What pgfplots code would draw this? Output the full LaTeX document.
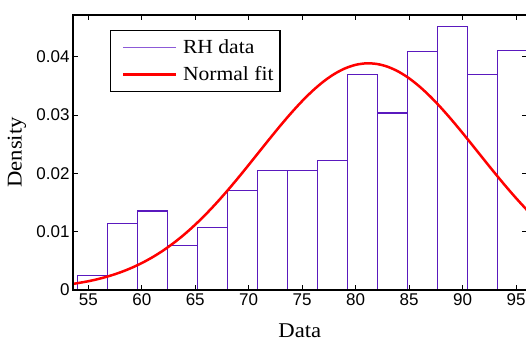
\documentclass[border=0pt]{standalone}
\usepackage{fontspec}
\setmainfont{Liberation Serif}
\newfontfamily\ticksans{Liberation Sans}
\newfontfamily\labfont[FakeStretch=1.08]{Liberation Serif}
\usepackage{pgfplots}
\pgfplotsset{compat=1.18}
\definecolor{barc}{RGB}{90,25,190}
\definecolor{legc}{RGB}{140,90,215}
\definecolor{fitred}{RGB}{255,0,0}
\begin{document}
\begin{tikzpicture}
\begin{axis}[
  axis on top,
  scale only axis, width=453.7bp, height=275bp,
  xmin=53.569, xmax=96, ymin=0, ymax=0.04714,
  scaled x ticks=false, scaled y ticks=false,
  xtick={55,60,65,70,75,80,85,90,95},
  xticklabels={55,60,65,70,75,80,85,90,95},
  ytick={0,0.01,0.02,0.03,0.04},
  yticklabels={0,0.01,0.02,0.03,0.04},
  /pgf/number format/assume math mode=true,
  ticklabel style={font=\ticksans\fontsize{17bp}{20bp}\selectfont},
  tick align=inside, xtick pos=both, ytick pos=both,
  major tick length=5bp,
  tick style={line width=0.8bp, black},
  axis line style={line width=1.1bp},
  xlabel={Data}, ylabel={Density},
  label style={font=\labfont\fontsize{21bp}{24bp}\selectfont},
  xlabel style={at={(axis description cs:0.5,0)}, anchor=center, yshift=-41bp},
  ylabel style={at={(axis description cs:-0.1234,0.5)}, anchor=center},
  legend style={at={(axis description cs:0.0820,0.946)}, anchor=north west, draw=black, line width=1.2bp,
    fill=white, font=\labfont\fontsize{20bp}{24bp}\selectfont, inner xsep=6.5bp, inner ysep=9bp,
    row sep=12bp, nodes={inner sep=0bp},
    /tikz/every odd column/.append style={column sep=5.7bp}},
  legend cell align=left,
]
\addplot[ybar interval, draw=barc, fill=white, line width=1.1bp,
  legend image code/.code={\path (0bp,0bp); \draw[legc, line width=1bp] (4.9bp,0bp) -- (57.5bp,0bp);}]
 coordinates {(53.97,0.0025) (56.78,0.01143) (59.59,0.01354) (62.40,0.00766) (65.21,0.01069) (68.02,0.0171) (70.83,0.02052) (73.63,0.02052) (76.44,0.02217) (79.25,0.03691) (82.06,0.03034) (84.87,0.04086) (87.68,0.04514) (90.49,0.03691) (93.30,0.0411) (96.11,0.0411)};
\addlegendentry{RH data}
\addplot[fitred, line width=2.5bp, smooth,
  legend image code/.code={\path (0bp,0bp); \draw[fitred, line width=2.5bp] (4.9bp,0bp) -- (57.5bp,0bp);}]
 coordinates {(53.5,0.001023) (55,0.001501) (56,0.001915) (57,0.002420) (58,0.003029) (59,0.003759) (60,0.004615) (61,0.005615) (62,0.006769) (63,0.008083) (64,0.009560) (65,0.011200) (66,0.012997) (67,0.014940) (68,0.017013) (69,0.019189) (70,0.021442) (71,0.023730) (72,0.026018) (73,0.028256) (74,0.030394) (75,0.032387) (76,0.034184) (77,0.035743) (78,0.037019) (79,0.037979) (80,0.038596) (81,0.038853) (82,0.038742) (83,0.038268) (84,0.037442) (85,0.036289) (86,0.034839) (87,0.033132) (88,0.031211) (89,0.029124) (90,0.026921) (91,0.024649) (92,0.022355) (93,0.020084) (94,0.017873) (95,0.015756) (96,0.013758) (96.5,0.012748)};
\addlegendentry{Normal fit}
\end{axis}
\pgfresetboundingbox
\path[use as bounding box] ([shift={(-73bp,-49bp)}]current axis.south west) rectangle ([shift={(453bp,15bp)}]current axis.north west);
\end{tikzpicture}
\end{document}
